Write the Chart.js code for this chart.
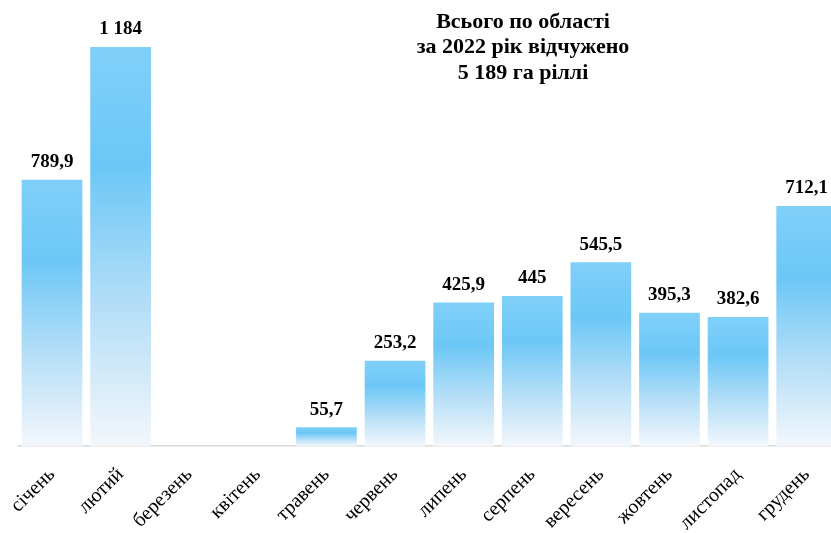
<!DOCTYPE html>
<html>
<head>
<meta charset="utf-8">
<script src="https://cdn.jsdelivr.net/npm/chart.js@4"></script>
<style>
    html, body { margin: 0; padding: 0; background: #fff; overflow: hidden; }
    #wrap { position: relative; width: 841px; height: 533px; }
</style>
</head>
<body>
<div id="wrap"><canvas id="areaChart" width="841" height="533"></canvas></div>
<script>
// Відчуження ріллі по місяцях, га
const months = ['січень', 'лютий', 'березень', 'квітень', 'травень', 'червень',
    'липень', 'серпень', 'вересень', 'жовтень', 'листопад', 'грудень'];
const hectares = [789.9, 1184, 0, 0, 55.7, 253.2, 425.9, 445, 545.5, 395.3, 382.6, 712.1];
const titleLines = ['Всього по області', 'за 2022 рік відчужено', '5 189 га ріллі'];

const serif = '"Liberation Serif", "Times New Roman", serif';

function formatValue(v) {
    const parts = v.toFixed(v % 1 === 0 ? 0 : 1).split('.');
    const intPart = parts[0].replace(/\B(?=(\d{3})+(?!\d))/g, ' ');
    return parts[1] ? intPart + ',' + parts[1] : intPart;
}

// gradient per bar: light top, stronger blue ~30%, fading to almost white at the base
function barGradient(context) {
    const chart = context.chart;
    if (!chart.chartArea || context.type !== 'data') return '#6ec8f6';
    const yScale = chart.scales.y;
    const top = yScale.getPixelForValue(context.raw);
    const base = yScale.getPixelForValue(0);
    if (base - top < 1) return '#6ec8f6';
    const g = chart.ctx.createLinearGradient(0, top, 0, base);
    g.addColorStop(0, '#80d0f9');
    g.addColorStop(0.3, '#6cc7f6');
    g.addColorStop(0.65, '#b4def7');
    g.addColorStop(1, '#f3f7fc');
    return g;
}

const valueLabels = {
    id: 'valueLabels',
    afterDatasetsDraw(chart) {
        const ctx = chart.ctx;
        const meta = chart.getDatasetMeta(0);
        ctx.save();
        ctx.font = 'bold 19px ' + serif;
        ctx.fillStyle = '#000';
        ctx.textAlign = 'center';
        ctx.textBaseline = 'bottom';
        meta.data.forEach((bar, i) => {
            const v = hectares[i];
            if (!v) return;
            ctx.fillText(formatValue(v), bar.x, bar.y - 8);
        });
        ctx.restore();
    }
};

const titleBlock = {
    id: 'titleBlock',
    afterDraw(chart) {
        const ctx = chart.ctx;
        ctx.save();
        ctx.font = 'bold 22px ' + serif;
        ctx.fillStyle = '#000';
        ctx.textAlign = 'center';
        ctx.textBaseline = 'middle';
        titleLines.forEach((line, i) => ctx.fillText(line, 523, 22 + i * 25.5));
        ctx.restore();
    }
};

const ctx = document.getElementById('areaChart').getContext('2d');
new Chart(ctx, {
    type: 'bar',
    data: {
        labels: months,
        datasets: [{
            data: hectares,
            backgroundColor: barGradient,
            borderWidth: 0,
            categoryPercentage: 1,
            barPercentage: 0.885
        }]
    },
    options: {
        responsive: false,
        animation: false,
        layout: { padding: { top: 8, left: 17.7, right: 0, bottom: 0 } },
        plugins: {
            legend: { display: false },
            tooltip: { enabled: false }
        },
        scales: {
            x: {
                grid: { display: false, drawTicks: false },
                border: { display: true, color: '#d9d9d9', width: 1.5 },
                ticks: {
                    color: '#000',
                    font: { family: serif, size: 20 },
                    maxRotation: 45,
                    minRotation: 45,
                    autoSkip: false,
                    padding: 17
                },
                afterFit(scale) {
                    scale.height = 87;
                    scale.paddingLeft = 0;
                    scale.paddingRight = 0;
                }
            },
            y: {
                display: false,
                min: 0,
                max: 1300
            }
        }
    },
    plugins: [valueLabels, titleBlock]
});
</script>
</body>
</html>
